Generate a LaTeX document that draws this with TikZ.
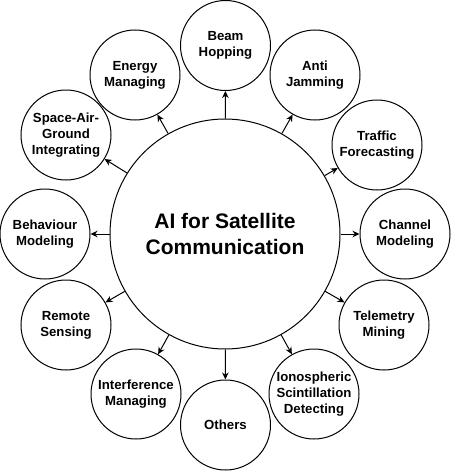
\documentclass[tikz,border=0pt]{standalone}
\usepackage{fontspec}
\setmainfont{Liberation Sans}
\usepackage{tikz}
\usetikzlibrary{arrows.meta}
\tikzset{
  hubnode/.style={circle, draw=black, line width=1pt, minimum size=230pt,
                  inner sep=0pt, align=center,
                  font=\fontsize{21}{25.5}\selectfont\bfseries},
  topic/.style={circle, draw=black, line width=1pt, minimum size=90pt,
                inner sep=0pt, align=center,
                font=\fontsize{13.2}{16}\selectfont\bfseries},
  arr/.style={-{Stealth[length=7pt, width=6.5pt]}, line width=1pt},
}
\begin{document}
\begin{tikzpicture}[x=1pt, y=-1pt]
  \useasboundingbox (0,0) rectangle (451,471);

  \node[hubnode] (hub) at (225, 234) {AI for Satellite\\Communication};

  % ring of application topics
  \node[topic] (beam)    at (225.5, 45.5) {Beam\\Hopping};
  \node[topic] (anti)    at (315, 75)  {Anti\\Jamming};
  \node[topic] (traffic) at (377, 145) {Traffic\\Forecasting};
  \node[topic] (channel) at (405, 234) {Channel\\Modeling};
  \node[topic] (telem)   at (384, 325) {Telemetry\\Mining};
  \node[topic] (iono)    at (314, 394) {Ionospheric\\Scintillation\\Detecting};
  \node[topic] (others)  at (225.5, 425) {Others};
  \node[topic] (interf)  at (136, 394) {Interference\\Managing};
  \node[topic] (remote)  at (66, 325)  {Remote\\Sensing};
  \node[topic] (behav)   at (45, 234)  {Behaviour\\Modeling};
  \node[topic] (sagin)   at (66, 135)  {Space-Air-\\Ground\\Integrating};
  \node[topic] (energy)  at (135, 75)  {Energy\\Managing};

  \draw[arr] (hub) -- (beam);
  \draw[arr] (hub) -- (anti);
  \draw[arr] (hub) -- (traffic);
  \draw[arr] (hub) -- (channel);
  \draw[arr] (hub) -- (telem);
  \draw[arr] (hub) -- (iono);
  \draw[arr] (hub) -- (others);
  \draw[arr] (hub) -- (interf);
  \draw[arr] (hub) -- (remote);
  \draw[arr] (hub) -- (behav);
  \draw[arr] (hub) -- (sagin);
  \draw[arr] (hub) -- (energy);
\end{tikzpicture}
\end{document}
